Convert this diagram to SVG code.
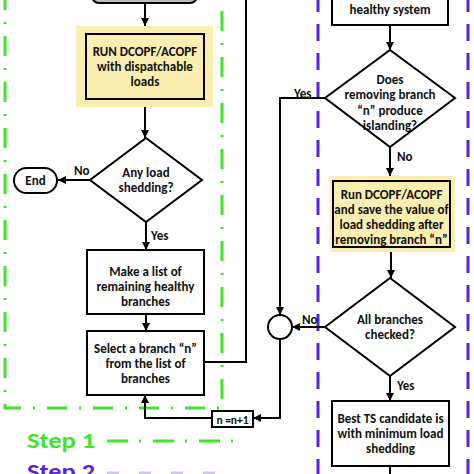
<svg xmlns="http://www.w3.org/2000/svg" width="474" height="474" viewBox="0 0 474 474">
<defs>
<marker id="ah" viewBox="0 0 10 10" refX="10" refY="5" markerWidth="8" markerHeight="8" markerUnits="userSpaceOnUse" orient="auto">
<path d="M0,0 L10,5 L0,10 z" fill="#000"/>
</marker>
<style>
.box{fill:#fff;stroke:#000;stroke-width:2}
.hl{fill:#fbeeb0}
.t{font-family:Carlito,Lato,"Liberation Sans",sans-serif;font-weight:bold;font-size:13px;fill:#111;text-anchor:middle}
.lbl{font-family:Carlito,Lato,"Liberation Sans",sans-serif;font-weight:bold;font-size:13px;fill:#111}
.c{fill:none;stroke:#000;stroke-width:2}
.g{fill:none;stroke:#3ee62a;stroke-width:3;stroke-dasharray:20 12 2 12}
.p{fill:none;stroke:#5a22e0;stroke-width:3;stroke-dasharray:17 12}
</style>
</defs>
<g id="frames">
<path class="g" d="M5,-10 V408 H222 V-10"/>
<path class="p" d="M318,-5 V480"/>
<path class="p" d="M468,-5 V480"/>
</g>
<g id="n-top-left"><rect class="box" x="92" y="-30" width="105" height="33" rx="7" style="fill:#bdbdbd"/></g>
<g id="n-run1">
<rect class="hl" x="76" y="26" width="137" height="81"/>
<rect class="box" x="86" y="34" width="118" height="65" style="fill:#fbeeb0"/>
<text class="t" x="145" y="56">RUN DCOPF/ACOPF</text>
<text class="t" x="145" y="71">with dispatchable</text>
<text class="t" x="145" y="86">loads</text>
</g>
<g id="n-anyload">
<path class="box" d="M146,138 L202,180 L146,222 L90,180 z"/>
<text class="t" x="146" y="177">Any load</text>
<text class="t" x="146" y="192">shedding?</text>
</g>
<g id="n-end">
<rect class="box" x="14" y="168" width="43" height="25" rx="12.5"/>
<text class="t" x="35.5" y="185">End</text>
</g>
<g id="n-makelist">
<rect class="box" x="87" y="250" width="117" height="64"/>
<text class="t" x="145.5" y="276">Make a list of</text>
<text class="t" x="145.5" y="291">remaining healthy</text>
<text class="t" x="145.5" y="306">branches</text>
</g>
<g id="n-select">
<rect class="box" x="87" y="331" width="117" height="64"/>
<text class="t" x="145.5" y="353">Select a branch “n”</text>
<text class="t" x="145.5" y="368">from the list of</text>
<text class="t" x="145.5" y="383">branches</text>
</g>
<g id="n-inc">
<rect class="box" x="212" y="411" width="41" height="16"/>
<text class="t" x="232.5" y="423.5" style="font-size:11.5px">n =n+1</text>
</g>
<g id="n-top-right">
<rect class="box" x="332" y="-30" width="116" height="55"/>
<text class="t" x="390" y="14">healthy system</text>
</g>
<g id="n-island">
<path class="box" d="M390,50 L455,98 L390,147 L325,98 z"/>
<text class="t" x="390" y="84">Does</text>
<text class="t" x="390" y="99">removing branch</text>
<text class="t" x="390" y="115">“n” produce</text>
<text class="t" x="390" y="130">islanding?</text>
</g>
<g id="n-run2">
<rect class="hl" x="330" y="176" width="125" height="76"/>
<rect class="box" x="333" y="181" width="117" height="66" style="fill:#fbeeb0"/>
<text class="t" x="391.5" y="199">Run DCOPF/ACOPF</text>
<text class="t" x="391.5" y="214">and save the value of</text>
<text class="t" x="391.5" y="229">load shedding after</text>
<text class="t" x="391.5" y="244">removing branch “n”</text>
</g>
<g id="n-allchecked">
<path class="box" d="M390,278 L455,327 L390,376 L325,327 z"/>
<text class="t" x="390" y="324">All branches</text>
<text class="t" x="390" y="339">checked?</text>
</g>
<g id="n-join"><circle class="box" cx="280" cy="327" r="12"/></g>
<g id="n-best">
<rect class="box" x="332" y="401" width="117" height="65"/>
<text class="t" x="390.5" y="423">Best TS candidate is</text>
<text class="t" x="390.5" y="438">with minimum load</text>
<text class="t" x="390.5" y="453">shedding</text>
</g>
<g id="connectors">
<path class="c" d="M145,3 V26" marker-end="url(#ah)"/>
<path class="c" d="M145,107 V138" marker-end="url(#ah)"/>
<path class="c" d="M90,180 H58" marker-end="url(#ah)"/>
<path class="c" d="M146,222 V250" marker-end="url(#ah)"/>
<path class="c" d="M146,314 V331" marker-end="url(#ah)"/>
<path class="c" d="M204,362 H246 V-5"/>
<path class="c" d="M390,25 V50" marker-end="url(#ah)"/>
<path class="c" d="M325,98 H280 V315" marker-end="url(#ah)"/>
<path class="c" d="M390,147 V176" marker-end="url(#ah)"/>
<path class="c" d="M391,252 V278" marker-end="url(#ah)"/>
<path class="c" d="M325,327 H292" marker-end="url(#ah)"/>
<path class="c" d="M280,339 V418 H253" marker-end="url(#ah)"/>
<path class="c" d="M212,418 H145 V395" marker-end="url(#ah)"/>
<path class="c" d="M390,376 V401" marker-end="url(#ah)"/>
<path class="c" d="M390,466 V480"/>
</g>
<g id="labels">
<text class="lbl" x="74" y="175">No</text>
<text class="lbl" x="151" y="240">Yes</text>
<text class="lbl" x="294" y="98">Yes</text>
<text class="lbl" x="397" y="161">No</text>
<text class="lbl" x="302" y="324">No</text>
<text class="lbl" x="397" y="390">Yes</text>
</g>
<g id="legend">
<text x="27" y="448" textLength="68" lengthAdjust="spacingAndGlyphs" style="font-family:Carlito,Lato,'Liberation Sans',sans-serif;font-weight:bold;font-size:23px;fill:#3ee62a">Step 1</text>
<path d="M107,441 H240" style="fill:none;stroke:#3ee62a;stroke-width:3;stroke-dasharray:21 11 2 12"/>
<text x="27" y="479" textLength="68" lengthAdjust="spacingAndGlyphs" style="font-family:Carlito,Lato,'Liberation Sans',sans-serif;font-weight:bold;font-size:23px;fill:#5a22e0">Step 2</text>
<path d="M107,474 H230" style="fill:none;stroke:#d5c5f5;stroke-width:5;stroke-dasharray:12 20"/>
</g>
</svg>
